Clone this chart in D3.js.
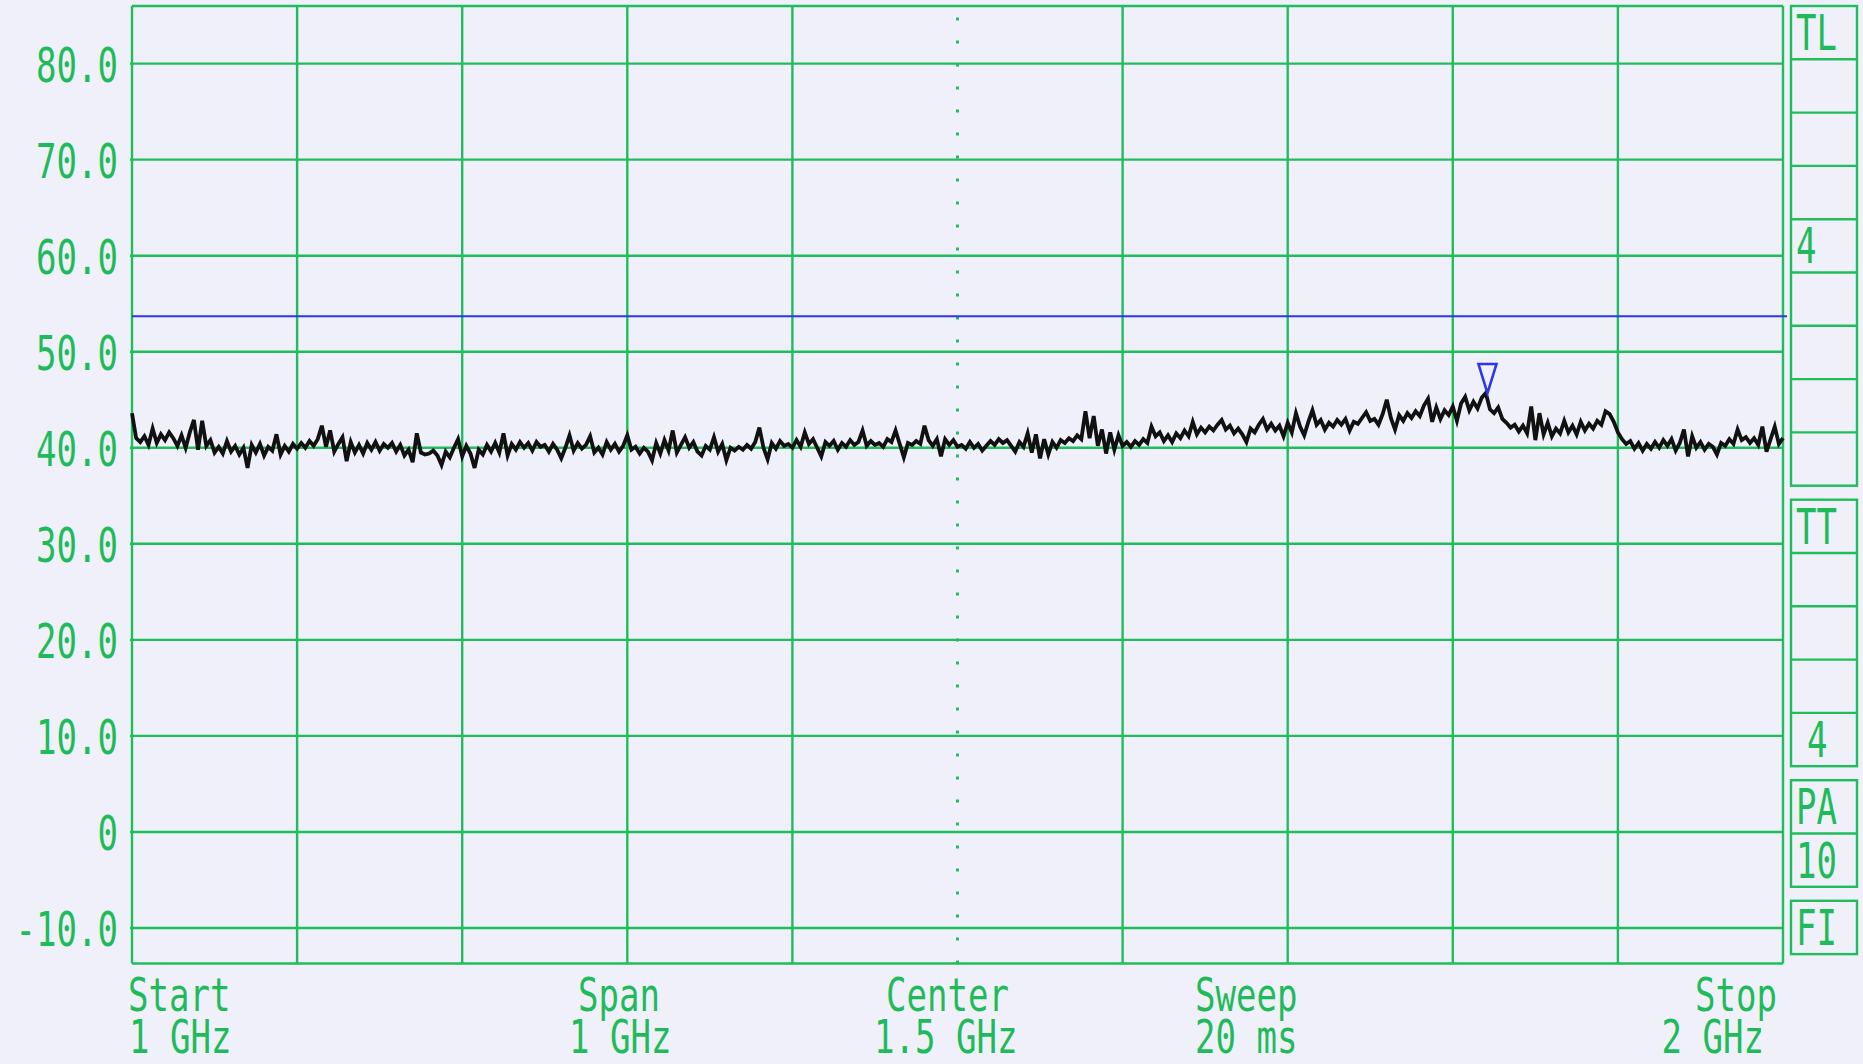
<!DOCTYPE html>
<html><head><meta charset="utf-8">
<script src="https://cdn.jsdelivr.net/npm/d3@7"></script>
<style>html,body{margin:0;padding:0;background:#eff0f9;overflow:hidden}</style>
</head><body>
<svg id="c" width="1863" height="1064"></svg>
<script>
// ---------- data ----------
const yTickValues = [-10, 0, 10, 20, 30, 40, 50, 60, 70, 80];
const yTickLabels = ["-10.0", "0", "10.0", "20.0", "30.0", "40.0", "50.0", "60.0", "70.0", "80.0"];
const freqGridGHz = [1.0, 1.1, 1.2, 1.3, 1.4, 1.6, 1.7, 1.8, 1.9, 2.0];
const centerFreqGHz = 1.5;
const startFreqGHz = 1.0;
const stopFreqGHz = 2.0;
const footerTop = ["Start", "Span", "Center", "Sweep", "Stop"];
const footerBottom = ["1 GHz", "1 GHz", "1.5 GHz", "20 ms", "2 GHz"];
const refLevel = 53.7;
const markerFreqGHz = 1.821;
const markerLevel = 45.7;
const panelBoxes = [
  ["TL", "", "", "", "4", "", "", "", ""],
  ["TT", "", "", "", "4"],
  ["PA", "10"],
  ["FI"]
];
const traceLevels = [
  43.6, 41.0, 40.6, 41.2, 40.3, 42.0, 40.5, 41.4, 40.8, 41.6,
  41.0, 40.2, 41.3, 40.0, 41.6, 42.9, 39.8, 42.8, 40.2, 40.8,
  39.5, 40.1, 39.4, 40.7, 39.6, 40.2, 39.3, 40.0, 37.9, 40.3,
  39.5, 40.4, 39.2, 40.1, 39.7, 41.4, 39.3, 40.2, 39.6, 40.4,
  39.9, 40.5, 40.0, 40.7, 40.2, 40.9, 42.3, 40.1, 41.8, 39.6,
  40.4, 41.1, 38.6, 40.6, 39.5, 40.3, 39.4, 40.5, 39.8, 40.6,
  39.7, 40.4, 40.0, 40.5, 39.6, 40.3, 39.2, 39.8, 38.5, 41.5,
  39.5, 39.3, 39.4, 39.7, 39.2, 38.2, 39.6, 39.0, 40.0, 40.9,
  39.1, 40.2, 39.4, 37.9, 39.8, 39.3, 40.3, 39.6, 40.5, 39.5,
  41.5, 39.2, 40.4, 39.8, 40.6, 40.0, 40.5, 39.7, 40.6, 40.1,
  40.3, 39.6, 40.4, 39.8, 38.9, 40.0, 41.3, 39.7, 40.5, 39.9,
  40.3, 41.2, 39.5, 40.0, 39.3, 40.6, 39.8, 40.4, 39.6, 40.2,
  41.3, 39.8, 40.1, 39.4, 40.0, 39.6, 38.7, 40.5, 39.4, 40.8,
  39.7, 41.8, 39.5, 40.3, 41.1, 40.0, 40.6, 39.6, 39.2, 40.2,
  39.8, 41.1, 39.6, 40.4, 38.7, 40.0, 39.7, 40.1, 39.8, 40.3,
  39.9, 40.6, 42.1, 40.0, 38.8, 40.5, 39.9, 40.7, 40.2, 40.4,
  40.0, 40.8, 40.1, 41.6, 40.4, 40.9, 40.0, 39.1, 40.6, 40.2,
  40.7, 39.8, 40.5, 40.1, 40.8, 40.3, 40.6, 41.8, 40.2, 40.7,
  40.3, 40.5, 40.1, 40.9, 40.6, 41.8, 40.4, 39.0, 40.5, 40.3,
  40.7, 40.4, 42.3, 40.8, 40.2, 40.9, 39.1, 40.9, 40.3, 40.8,
  40.1, 40.3, 39.9, 40.6, 40.0, 40.4, 39.7, 40.2, 40.7, 40.3,
  40.9, 40.5, 40.8, 40.2, 39.6, 40.6, 40.1, 41.5, 39.5, 41.4,
  38.9, 40.9, 39.3, 40.6, 40.0, 40.8, 40.5, 41.0, 40.7, 41.3,
  40.9, 43.8, 41.0, 43.3, 40.2, 41.9, 39.4, 41.6, 39.8, 41.3,
  40.2, 40.6, 40.1, 40.7, 40.3, 40.9, 40.5, 42.2, 41.2, 41.6,
  40.7, 41.3, 40.6, 41.5, 41.0, 41.8, 41.2, 42.7, 41.4, 42.1,
  41.6, 42.2, 41.8, 42.4, 42.9, 41.9, 42.3, 41.5, 42.0, 41.4,
  40.6, 42.0, 41.6, 42.4, 43.0, 41.9, 42.5, 41.8, 42.3, 41.2,
  42.6, 41.6, 43.6, 42.2, 41.3, 42.7, 43.9, 42.4, 42.9, 41.9,
  42.6, 42.2, 42.9, 42.4, 43.0, 41.8, 42.7, 42.5, 43.1, 43.7,
  42.8, 43.0, 42.4, 43.5, 45.0, 43.1, 41.9, 43.4, 42.8, 43.6,
  43.1, 43.8, 43.3, 44.4, 45.1, 42.7, 44.2, 43.0, 43.9, 43.4,
  44.3, 42.8, 44.6, 45.3, 43.9, 44.8, 44.1, 45.2, 45.7, 44.0,
  43.6, 44.2, 43.0, 42.6, 42.1, 42.4, 41.7, 42.3, 41.5, 44.3,
  40.8, 43.6, 41.4, 42.6, 41.2, 42.0, 41.5, 42.8, 41.6, 42.3,
  41.4, 42.7, 41.8, 42.5, 42.0, 42.8, 42.4, 43.8, 43.5, 42.7,
  41.6, 40.9, 40.4, 40.7, 39.9, 40.5, 39.7, 40.4, 39.9, 40.6,
  40.0, 40.8, 40.2, 40.9, 39.7, 40.5, 41.9, 39.1, 41.2, 40.0,
  40.6, 39.8, 40.4, 40.1, 39.3, 40.5, 40.2, 40.9, 40.4, 41.9,
  40.8, 41.1, 40.5, 41.0, 40.3, 42.2, 39.6, 40.9, 42.2, 40.4,
  41.0
];

// ---------- layout ----------
const GREEN = "#1fbd5c";
const TEXTGREEN = "#1fbb5b";
const BLUE = "#2a36f0";
const FONT = "'DejaVu Sans Mono', monospace";
const ADV = 20.5;           // character advance of the plotter font
const FS = 48;
const plot = {left: 132, right: 1783, top: 6, bottom: 963.5};

const svg = d3.select("#c");
svg.append("rect").attr("width", 1863).attr("height", 1064).attr("fill", "#eff0f9");

const x = d3.scaleLinear().domain([startFreqGHz, stopFreqGHz]).range([plot.left, plot.right]);
const y = d3.scaleLinear().domain([-13.7, 86]).range([plot.bottom, plot.top]);

function monoText(g, str, px, py, anchor, fs) {
  const len = str.length * ADV;
  let sx = px;
  if (anchor === "end") sx = px - len;
  else if (anchor === "middle") sx = px - len / 2;
  return g.append("text")
    .attr("x", sx).attr("y", py)
    .attr("textLength", len).attr("lengthAdjust", "spacingAndGlyphs")
    .attr("font-family", FONT).attr("font-size", fs || FS)
    .attr("fill", TEXTGREEN).text(str);
}

const grid = svg.append("g").attr("stroke", GREEN).attr("stroke-width", 2.4).attr("fill", "none");
grid.selectAll("line.h").data(yTickValues).join("line").attr("class", "h")
  .attr("x1", plot.left - 2).attr("x2", plot.right)
  .attr("y1", d => y(d)).attr("y2", d => y(d));
grid.selectAll("line.v").data(freqGridGHz).join("line").attr("class", "v")
  .attr("x1", d => x(d)).attr("x2", d => x(d))
  .attr("y1", plot.top).attr("y2", plot.bottom);
grid.append("line").attr("x1", plot.left).attr("x2", plot.right).attr("y1", plot.top).attr("y2", plot.top);
grid.append("line").attr("x1", plot.left).attr("x2", plot.right).attr("y1", plot.bottom).attr("y2", plot.bottom);
svg.append("line")
  .attr("x1", x(centerFreqGHz)).attr("x2", x(centerFreqGHz))
  .attr("y1", plot.bottom).attr("y2", plot.top)
  .attr("stroke", GREEN).attr("stroke-width", 3)
  .attr("stroke-dasharray", "3 20");

const yl = svg.append("g");
yTickValues.forEach((v, i) => monoText(yl, yTickLabels[i], 118, y(v) + 18, "end"));

const footerLayout = [[128, 129, "start"], [578, 569, "start"], [886, 874, "start"], [1195, 1195, "start"], [1777, 1764, "end"]];
const ft = svg.append("g");
footerTop.forEach((t, i) => {
  const [x1, x2, a] = footerLayout[i];
  monoText(ft, t, x1, 1011, a, 46);
  monoText(ft, footerBottom[i], x2, 1053, a, 46);
});

const panel = svg.append("g");
const cellH = 53.3, boxGap = 14, pL = 1791, pR = 1857;
let boxTop = 6;
panelBoxes.forEach((cells, b) => {
  const h = cells.length * cellH;
  panel.append("rect").attr("x", pL).attr("y", boxTop).attr("width", pR - pL).attr("height", h)
    .attr("fill", "none").attr("stroke", GREEN).attr("stroke-width", 2.4);
  cells.forEach((lab, c) => {
    if (c > 0) panel.append("line").attr("x1", pL).attr("x2", pR)
      .attr("y1", boxTop + c * cellH).attr("y2", boxTop + c * cellH)
      .attr("stroke", GREEN).attr("stroke-width", 2.4);
    if (lab) {
      const dx = (b === 1 && c === 4) ? 11 : 0;
      monoText(panel, lab, 1796 + dx, boxTop + c * cellH + 44, "start", 50);
    }
  });
  boxTop += h + boxGap;
});

svg.append("line")
  .attr("x1", plot.left).attr("x2", plot.right + 4)
  .attr("y1", y(refLevel)).attr("y2", y(refLevel))
  .attr("stroke", BLUE).attr("stroke-width", 2);

const n = traceLevels.length;
const line = d3.line()
  .x((d, i) => x(startFreqGHz + i * (stopFreqGHz - startFreqGHz) / (n - 1)))
  .y(d => y(d));
svg.append("path").datum(traceLevels)
  .attr("d", line).attr("fill", "none")
  .attr("stroke", "#111").attr("stroke-width", 3.8)
  .attr("stroke-linejoin", "miter");

const mx = x(markerFreqGHz), my = y(markerLevel);
svg.append("path")
  .attr("d", `M${mx},${my} L${mx - 9},${my - 29} L${mx + 9},${my - 29} Z`)
  .attr("fill", "none").attr("stroke", BLUE).attr("stroke-width", 2.6);
</script>
</body></html>
